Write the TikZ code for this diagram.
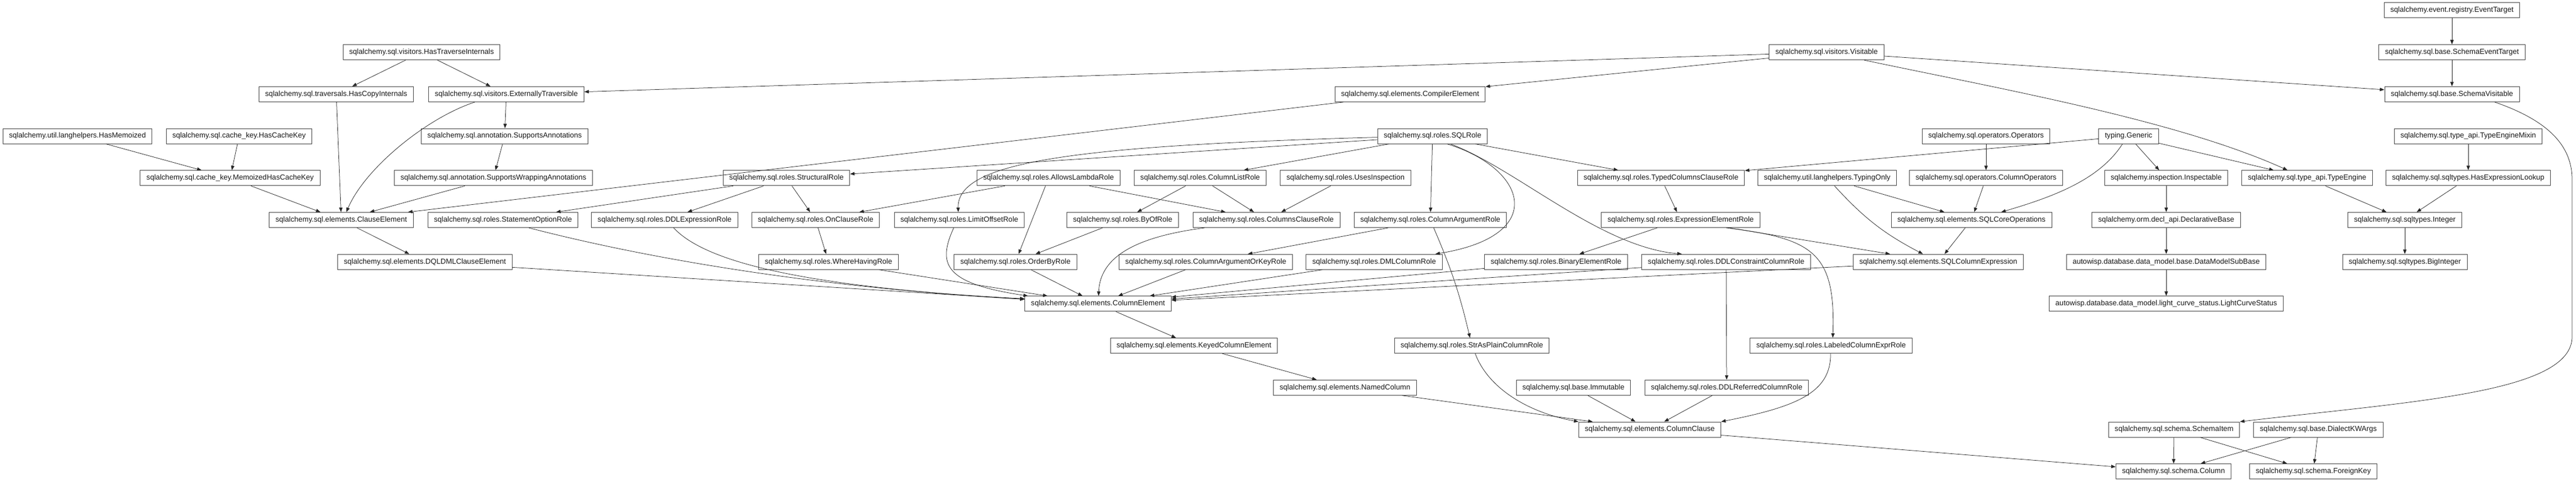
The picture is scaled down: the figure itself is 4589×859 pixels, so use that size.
\documentclass[tikz,border=0pt]{standalone}
\usepackage{fontspec}
\setmainfont{Liberation Sans}
\usetikzlibrary{arrows.meta}
\tikzset{
  box/.style={draw=black!72, line width=1pt, rectangle, minimum height=27pt,
    inner xsep=11pt, inner ysep=0pt, fill=white, text=black!90,
    font=\fontsize{13.1pt}{15pt}\selectfont},
  edge/.style={draw=black!85, line width=0.75pt, -{Triangle[length=8pt,width=6pt]}},
}
\begin{document}
\begin{tikzpicture}[x=1pt,y=-1pt]
\fill[white] (0,0) rectangle (4589,859);
\useasboundingbox (0,0) rectangle (4589,859);
% row 0
\node[box] (EvT) at (4368,18.5) {sqlalchemy.event.registry.EventTarget};
% row 1
\node[box] (HTI) at (751,93.2) {sqlalchemy.sql.visitors.HasTraverseInternals};
\node[box] (Vis) at (3254,93.2) {sqlalchemy.sql.visitors.Visitable};
\node[box] (SET) at (4368,93.2) {sqlalchemy.sql.base.SchemaEventTarget};
% row 2
\node[box] (HCI) at (599,167.9) {sqlalchemy.sql.traversals.HasCopyInternals};
\node[box] (ET) at (902,167.9) {sqlalchemy.sql.visitors.ExternallyTraversible};
\node[box] (CompE) at (2512,167.9) {sqlalchemy.sql.elements.CompilerElement};
\node[box] (SV) at (4368,167.9) {sqlalchemy.sql.base.SchemaVisitable};
% row 3
\node[box] (HM) at (138,242.6) {sqlalchemy.util.langhelpers.HasMemoized};
\node[box] (HCK) at (426,242.6) {sqlalchemy.sql.cache\_key.HasCacheKey};
\node[box] (SA) at (899,242.6) {sqlalchemy.sql.annotation.SupportsAnnotations};
\node[box] (SQLR) at (2552,242.6) {sqlalchemy.sql.roles.SQLRole};
\node[box] (Ops) at (3538,242.6) {sqlalchemy.sql.operators.Operators};
\node[box] (Gen) at (3792,242.6) {typing.Generic};
\node[box] (TEM) at (4397,242.6) {sqlalchemy.sql.type\_api.TypeEngineMixin};
% row 4
\node[box] (MHCK) at (410,317.3) {sqlalchemy.sql.cache\_key.MemoizedHasCacheKey};
\node[box] (SWA) at (879,317.3) {sqlalchemy.sql.annotation.SupportsWrappingAnnotations};
\node[box] (StR) at (1401,317.3) {sqlalchemy.sql.roles.StructuralRole};
\node[box] (ALR) at (1868,317.3) {sqlalchemy.sql.roles.AllowsLambdaRole};
\node[box] (CLR) at (2138,317.3) {sqlalchemy.sql.roles.ColumnListRole};
\node[box] (UIR) at (2397,317.3) {sqlalchemy.sql.roles.UsesInspection};
\node[box] (TCCR) at (2959,317.3) {sqlalchemy.sql.roles.TypedColumnsClauseRole};
\node[box] (TO) at (3255,317.3) {sqlalchemy.util.langhelpers.TypingOnly};
\node[box] (COps) at (3538,317.3) {sqlalchemy.sql.operators.ColumnOperators};
\node[box] (Insp) at (3859,317.3) {sqlalchemy.inspection.Inspectable};
\node[box] (TE) at (4110,317.3) {sqlalchemy.sql.type\_api.TypeEngine};
\node[box] (HEL) at (4397,317.3) {sqlalchemy.sql.sqltypes.HasExpressionLookup};
% row 5
\node[box] (ClE) at (608,392) {sqlalchemy.sql.elements.ClauseElement};
\node[box] (SOR) at (896,392) {sqlalchemy.sql.roles.StatementOptionRole};
\node[box] (DDLE) at (1184,392) {sqlalchemy.sql.roles.DDLExpressionRole};
\node[box] (OCR) at (1453,392) {sqlalchemy.sql.roles.OnClauseRole};
\node[box] (LOR) at (1709,392) {sqlalchemy.sql.roles.LimitOffsetRole};
\node[box] (BOR) at (2000,392) {sqlalchemy.sql.roles.ByOfRole};
\node[box] (CCR) at (2256,392) {sqlalchemy.sql.roles.ColumnsClauseRole};
\node[box] (CAR) at (2548,392) {sqlalchemy.sql.roles.ColumnArgumentRole};
\node[box] (EER) at (2994,392) {sqlalchemy.sql.roles.ExpressionElementRole};
\node[box] (SCO) at (3512,392) {sqlalchemy.sql.elements.SQLCoreOperations};
\node[box] (DB) at (3859,392) {sqlalchemy.orm.decl\_api.DeclarativeBase};
\node[box] (Int) at (4284,392) {sqlalchemy.sql.sqltypes.Integer};
% row 6
\node[box] (DQL) at (757,466.7) {sqlalchemy.sql.elements.DQLDMLClauseElement};
\node[box] (WHR) at (1476,466.7) {sqlalchemy.sql.roles.WhereHavingRole};
\node[box] (OBR) at (1809,466.7) {sqlalchemy.sql.roles.OrderByRole};
\node[box] (CAOK) at (2148,466.7) {sqlalchemy.sql.roles.ColumnArgumentOrKeyRole};
\node[box] (DMLC) at (2448,466.7) {sqlalchemy.sql.roles.DMLColumnRole};
\node[box] (BER) at (2772,466.7) {sqlalchemy.sql.roles.BinaryElementRole};
\node[box] (DDLC) at (3075,466.7) {sqlalchemy.sql.roles.DDLConstraintColumnRole};
\node[box] (SCE) at (3453,466.7) {sqlalchemy.sql.elements.SQLColumnExpression};
\node[box] (DMSB) at (3859,466.7) {autowisp.database.data\_model.base.DataModelSubBase};
\node[box] (BigI) at (4284,466.7) {sqlalchemy.sql.sqltypes.BigInteger};
% row 7
\node[box] (ColE) at (1956,541.4) {sqlalchemy.sql.elements.ColumnElement};
\node[box] (LCS) at (3859,541.4) {autowisp.database.data\_model.light\_curve\_status.LightCurveStatus};
% row 8
\node[box] (KCE) at (2127,616.1) {sqlalchemy.sql.elements.KeyedColumnElement};
\node[box] (SAPC) at (2622,616.1) {sqlalchemy.sql.roles.StrAsPlainColumnRole};
\node[box] (LCER) at (3262,616.1) {sqlalchemy.sql.roles.LabeledColumnExprRole};
% row 9
\node[box] (NC) at (2396,690.8) {sqlalchemy.sql.elements.NamedColumn};
\node[box] (Imm) at (2803,690.8) {sqlalchemy.sql.base.Immutable};
\node[box] (DDLR) at (3076,690.8) {sqlalchemy.sql.roles.DDLReferredColumnRole};
% row 10
\node[box] (CC) at (2939,765.5) {sqlalchemy.sql.elements.ColumnClause};
\node[box] (SI) at (3873,765.5) {sqlalchemy.sql.schema.SchemaItem};
\node[box] (DKW) at (4130,765.5) {sqlalchemy.sql.base.DialectKWArgs};
% row 11
\node[box] (Col) at (3872,840.2) {sqlalchemy.sql.schema.Column};
\node[box] (FK) at (4121,840.2) {sqlalchemy.sql.schema.ForeignKey};

% ---- straight edges
\draw[edge] (EvT) -- (SET);
\draw[edge] (SET) -- (SV);
\draw[edge] (HTI) -- (HCI);
\draw[edge] (HTI) -- (ET);
\draw[edge] (HCI) -- (ClE);
\draw[edge] (ET) -- (SA);
\draw[edge] (SA) -- (SWA);
\draw[edge] (SWA) -- (ClE);
\draw[edge] (HM) -- (MHCK);
\draw[edge] (HCK) -- (MHCK);
\draw[edge] (MHCK) -- (ClE);
\draw[edge] (CompE) -- (ClE);
\draw[edge] (ClE) -- (DQL);
\draw[edge] (Vis) -- (ET);
\draw[edge] (Vis) -- (CompE);
\draw[edge] (Vis) -- (SV);
\draw[edge] (SQLR) -- (StR);
\draw[edge] (SQLR) -- (CLR);
\draw[edge] (SQLR) -- (CAR);
\draw[edge] (SQLR) -- (TCCR);
\draw[edge] (StR) -- (SOR);
\draw[edge] (StR) -- (DDLE);
\draw[edge] (StR) -- (OCR);
\draw[edge] (ALR) -- (OCR);
\draw[edge] (ALR) -- (CCR);
\draw[edge] (ALR) -- (OBR);
\draw[edge] (CLR) -- (BOR);
\draw[edge] (CLR) -- (CCR);
\draw[edge] (UIR) -- (CCR);
\draw[edge] (OCR) -- (WHR);
\draw[edge] (BOR) -- (OBR);
\draw[edge] (CAR) -- (CAOK);
\draw[edge] (TCCR) -- (EER);
\draw[edge] (EER) -- (BER);
\draw[edge] (EER) -- (SCE);
\draw[edge] (TO) -- (SCO);
\draw[edge] (COps) -- (SCO);
\draw[edge] (Ops) -- (COps);
\draw[edge] (Gen) -- (TCCR);
\draw[edge] (Gen) -- (Insp);
\draw[edge] (Gen) -- (TE);
\draw[edge] (Insp) -- (DB);
\draw[edge] (DB) -- (DMSB);
\draw[edge] (DMSB) -- (LCS);
\draw[edge] (TEM) -- (HEL);
\draw[edge] (TE) -- (Int);
\draw[edge] (HEL) -- (Int);
\draw[edge] (Int) -- (BigI);
\draw[edge] (SCO) -- (SCE);
\draw[edge] (DQL) -- (ColE);
\draw[edge] (WHR) -- (ColE);
\draw[edge] (OBR) -- (ColE);
\draw[edge] (CAOK) -- (ColE);
\draw[edge] (DMLC) -- (ColE);
\draw[edge] (BER) -- (ColE);
\draw[edge] (DDLC) -- (ColE);
\draw[edge] (SCE) -- (ColE);
\draw[edge] (ColE) -- (KCE);
\draw[edge] (KCE) -- (NC);
\draw[edge] (NC) -- (CC);
\draw[edge] (Imm) -- (CC);
\draw[edge] (DDLR) -- (CC);
\draw[edge] (DDLC) -- (DDLR);
\draw[edge] (CC) -- (Col);
\draw[edge] (SI) -- (Col);
\draw[edge] (SI) -- (FK);
\draw[edge] (DKW) -- (Col);
\draw[edge] (DKW) -- (FK);

% ---- curved edges
\draw[edge] ([xshift=-56pt]ET.south) .. controls (760,210) and (650,300) .. ([xshift=9pt]ClE.north);
\draw[edge] ([xshift=46pt]SOR.south) .. controls (1150,460) and (1450,512) .. ([yshift=-6pt]ColE.north west);
\draw[edge] ([xshift=16pt]DDLE.south) .. controls (1250,460) and (1400,510) .. ([yshift=-5pt]ColE.north west);
\draw[edge] ([xshift=-10pt]LOR.south) .. controls (1670,470) and (1680,505) .. ([xshift=6pt]ColE.north west);
\draw[edge] ([xshift=-110pt]CCR.south) .. controls (2040,420) and (1960,450) .. ([xshift=1pt]ColE.north);
\draw[edge] ([yshift=-2pt]SQLR.west) .. controls (1900,260) and (1705,290) .. ([xshift=-2pt]LOR.north);
\draw[edge] ([xshift=26pt]SQLR.south) .. controls (2720,300) and (2760,420) .. ([xshift=109pt]DMLC.north);
\draw[edge] ([xshift=32pt]SQLR.south) .. controls (2700,300) and (2850,440) .. ([xshift=-79pt]DDLC.north);
\draw[edge] (CAR) to[bend left=5] (SAPC);
\draw[edge] ([xshift=81pt]EER.south) .. controls (3230,425) and (3270,450) .. ([xshift=3pt]LCER.north);
\draw[edge] (TO) to[bend right=10] (SCE);
\draw[edge] ([xshift=-11pt]Gen.south) .. controls (3740,320) and (3660,350) .. ([xshift=53pt]SCO.north);
\draw[edge] ([xshift=67pt]Vis.south) .. controls (3572,160) and (3880,215) .. ([xshift=-35pt]TE.north);
\draw[edge] ([xshift=76pt]SV.south) .. controls (4540,215) and (4582,260) .. (4582,320) -- (4582,600) .. controls (4582,700) and (4300,715) .. (SI.north east);
\draw[edge] ([xshift=6pt]SAPC.south) .. controls (2650,690) and (2720,735) .. (CC.north west);
\draw[edge] ([xshift=-1pt]LCER.south) .. controls (3262,700) and (3200,725) .. (CC.north east);
\end{tikzpicture}
\end{document}
